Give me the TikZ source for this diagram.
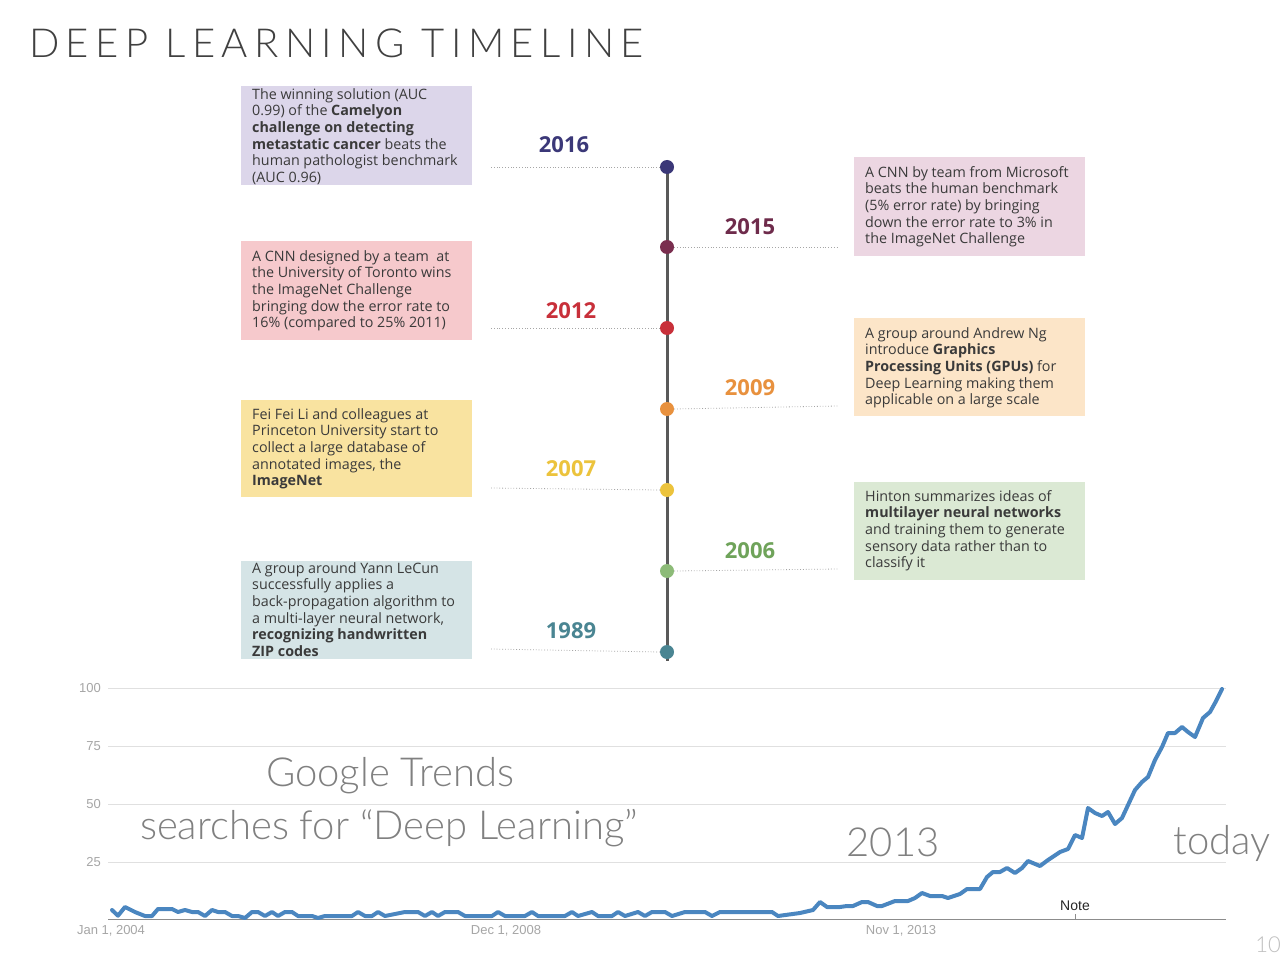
\documentclass[tikz,border=0pt]{standalone}
\usepackage{fontspec}
\setmainfont{Open Sans}
\newfontfamily\thinfont{Lato Light}
\newfontfamily\titlefont[LetterSpace=16]{Lato Light}
\newfontfamily\chartfont{Liberation Sans}
\definecolor{c2016}{HTML}{3B3878}
\definecolor{c2015}{HTML}{6E2B4B}
\definecolor{c2012}{HTML}{C8303A}
\definecolor{c2009}{HTML}{E8913E}
\definecolor{c2007}{HTML}{ECC33C}
\definecolor{c2006}{HTML}{6FA35A}
\definecolor{c1989}{HTML}{4A8592}
\definecolor{d2015}{HTML}{7A2E4F}
\definecolor{d2006}{HTML}{8DBB78}
\definecolor{b2016}{HTML}{DCD6EA}
\definecolor{b2012}{HTML}{F6C9CC}
\definecolor{b2007}{HTML}{F9E3A0}
\definecolor{b1989}{HTML}{D5E4E6}
\definecolor{b2015}{HTML}{ECD6E2}
\definecolor{b2009}{HTML}{FCE5C8}
\definecolor{b2006}{HTML}{DBE9D4}
\definecolor{txt}{HTML}{3A3A3A}
\definecolor{trendblue}{HTML}{4A86C0}
\tikzset{
  evbox/.style={minimum width=231pt, minimum height=99pt, inner sep=0pt, anchor=north west},
  evtext/.style={anchor=north west, inner sep=0pt, align=left, text=txt, font=\fontsize{14.3}{16.7}\selectfont},
  yearlbl/.style={font=\fontsize{22}{24}\selectfont\bfseries, inner sep=0pt},
  dot/.style={circle, minimum size=14pt, inner sep=0pt},
  dotline/.style={draw=black!35, dotted, line width=0.8pt},
  grid/.style={draw=black!12, line width=0.8pt},
  axlbl/.style={text=black!35, font=\chartfont\fontsize{13}{14}\selectfont, inner sep=0pt},
  bigtxt/.style={text=black!50, inner sep=0pt, font=\thinfont\fontsize{40}{42}\selectfont},
  trend/.style={draw=trendblue, line width=4pt, line join=round, line cap=round}
}
\begin{document}
\begin{tikzpicture}[x=1pt,y=-1pt]
\useasboundingbox (0,0) rectangle (1280,960);
\fill[white] (0,0) rectangle (1280,960);
% title
\node[anchor=west, inner sep=0pt, text=black!75, font=\titlefont\fontsize{40}{42}\selectfont] (title) at (29,43) {DEEP LEARNING TIMELINE};
% left boxes
\node[evbox, fill=b2016] (box2016) at (241,86) {};
\node[evtext] (t2016) at (252,88) {The winning solution (AUC\\0.99) of the \textbf{Camelyon}\\\textbf{challenge on detecting}\\\textbf{metastatic cancer} beats the\\human pathologist benchmark\\(AUC 0.96)};
\node[evbox, fill=b2012] (box2012) at (241,241) {};
\node[evtext] (t2012) at (252,250) {A CNN designed by a team\ \ at\\the University of Toronto wins\\the ImageNet Challenge\\bringing dow the error rate to\\16\% (compared to 25\% 2011)};
\node[evbox, fill=b2007, minimum height=97pt] (box2007) at (241,400) {};
\node[evtext] (t2007) at (252,408) {Fei Fei Li and colleagues at\\Princeton University start to\\collect a large database of\\annotated images, the\\\textbf{ImageNet}};
\node[evbox, fill=b1989, minimum height=98pt] (box1989) at (241,561) {};
\node[evtext] (t1989) at (252,562) {A group around Yann LeCun\\successfully applies a\\back-propagation algorithm to\\a multi-layer neural network,\\\textbf{recognizing handwritten}\\\textbf{ZIP codes}};
% right boxes
\node[evbox, fill=b2015] (box2015) at (854,157) {};
\node[evtext] (t2015) at (865,166) {A CNN by team from Microsoft\\beats the human benchmark\\(5\% error rate) by bringing\\down the error rate to 3\% in\\the ImageNet Challenge};
\node[evbox, fill=b2009, minimum height=98pt] (box2009) at (854,318) {};
\node[evtext] (t2009) at (865,327) {A group around Andrew Ng\\introduce \textbf{Graphics}\\\textbf{Processing Units (GPUs)} for\\Deep Learning making them\\applicable on a large scale};
\node[evbox, fill=b2006, minimum height=98pt] (box2006) at (854,482) {};
\node[evtext] (t2006) at (865,490) {Hinton summarizes ideas of\\\textbf{multilayer neural networks}\\and training them to generate\\sensory data rather than to\\classify it};
% timeline
\coordinate (ltop) at (667,167);
\coordinate (lbot) at (667,661);
\draw[draw=black!65, line width=3pt] (ltop) -- (lbot);
\coordinate (e2016) at (490,167);
\coordinate (e2015) at (838,247);
\coordinate (e2012) at (490,328);
\coordinate (e2009) at (838,406);
\coordinate (e2007) at (490,488);
\coordinate (e2006) at (838,569);
\coordinate (e1989) at (490,649);
\node[dot, fill=c2016] (d2016) at (667,167) {};
\node[dot, fill=d2015] (d2015) at (667,247) {};
\node[dot, fill=c2012] (d2012) at (667,328) {};
\node[dot, fill=c2009] (d2009) at (667,409) {};
\node[dot, fill=c2007] (d2007) at (667,490) {};
\node[dot, fill=d2006] (d2006) at (667,571) {};
\node[dot, fill=c1989] (d1989) at (667,652) {};
\draw[dotline] (d2016.west) -- (e2016);
\draw[dotline] (d2015.east) -- (e2015);
\draw[dotline] (d2012.west) -- (e2012);
\draw[dotline] (d2009.east) -- (e2009);
\draw[dotline] (d2007.west) -- (e2007);
\draw[dotline] (d2006.east) -- (e2006);
\draw[dotline] (d1989.west) -- (e1989);
\node[yearlbl, text=c2016] (y2016) at (564,145) {2016};
\node[yearlbl, text=c2015] (y2015) at (750,227) {2015};
\node[yearlbl, text=c2012] (y2012) at (571,311) {2012};
\node[yearlbl, text=c2009] (y2009) at (750,388) {2009};
\node[yearlbl, text=c2007] (y2007) at (571,469) {2007};
\node[yearlbl, text=c2006] (y2006) at (750,551) {2006};
\node[yearlbl, text=c1989] (y1989) at (571,631) {1989};
% chart grid
\foreach \yy/\lab in {688/100,746/75,804/50,862/25}{
  \draw[grid] (108,\yy) -- (1226,\yy);
  \node[axlbl, anchor=east] at (101,\yy) {\lab};
}
\draw[draw=black!45, line width=0.8pt] (108,919) -- (1226,919);
\draw[draw=black!45, line width=0.6pt] (1075,914) -- (1075,919);
\node[axlbl, anchor=center] (xl1) at (111,931) {Jan 1, 2004};
\node[axlbl, anchor=center] (xl2) at (506,931) {Dec 1, 2008};
\node[axlbl, anchor=center] (xl3) at (901,931) {Nov 1, 2013};
\node[inner sep=0pt, text=black!85, font=\chartfont\fontsize{14}{15}\selectfont] (note) at (1075,906) {Note};
% overlay text
\node[bigtxt] (gt) at (390,776) {Google Trends};
\node[bigtxt] (sf) at (389,828) {searches for “Deep Learning”};
\node[bigtxt] (y13) at (893,842) {2013};
\node[bigtxt] (today) at (1222,843) {today};
\node[inner sep=0pt, text=black!25, font=\thinfont\fontsize{22}{24}\selectfont] (pg) at (1268,945) {10};
% trend line
\draw[trend] plot coordinates {
(112,910) (118,915.7) (125,907) (135,912) (145,916) (152,916) (158,909) (172,909) (178,912) (185,910) (192,912) (198,912) (205,916) (212,910) (218,912) (225,912) (232,916) (238,916) (245,918) (252,912) (258,912) (265,916) (272,912) (278,916) (285,912) (292,912) (298,916) (312,916) (318,918) (325,916) (352,916) (358,912) (365,916) (372,916) (378,912) (385,916) (405,912) (418,912) (425,916) (432,912) (438,916) (445,912) (458,912) (465,916) (492,916) (498,912) (505,916) (525,916) (532,912) (538,916) (565,916) (572,912) (578,916) (592,912) (598,916) (612,916) (618,912) (625,916) (638,912) (645,916) (652,912) (665,912) (672,916) (685,912) (705,912) (712,916) (720,912) (760,912) (772,912) (778,916) (800,913) (813,910) (820,902) (827,907) (840,907) (847,906) (853,906) (862,902) (868,902) (877,906) (882,906) (895,901) (908,901) (915,898) (922,893) (930,896) (942,896) (948,898) (960,894) (967,889) (980,889) (987,877) (993,872) (1000,872) (1007,868) (1015,873) (1022,868) (1028,861) (1040,866) (1048,860) (1060,852) (1068,849) (1075,835) (1082,838) (1088,808) (1095,813) (1102,816) (1108,812) (1115,824) (1122,818) (1135,790) (1142,782) (1148,777) (1155,760) (1162,747) (1168,733) (1175,733) (1182,727) (1188,732) (1195,737) (1203,718) (1210,712) (1215,703) (1222,689)
};
\end{tikzpicture}
\end{document}
